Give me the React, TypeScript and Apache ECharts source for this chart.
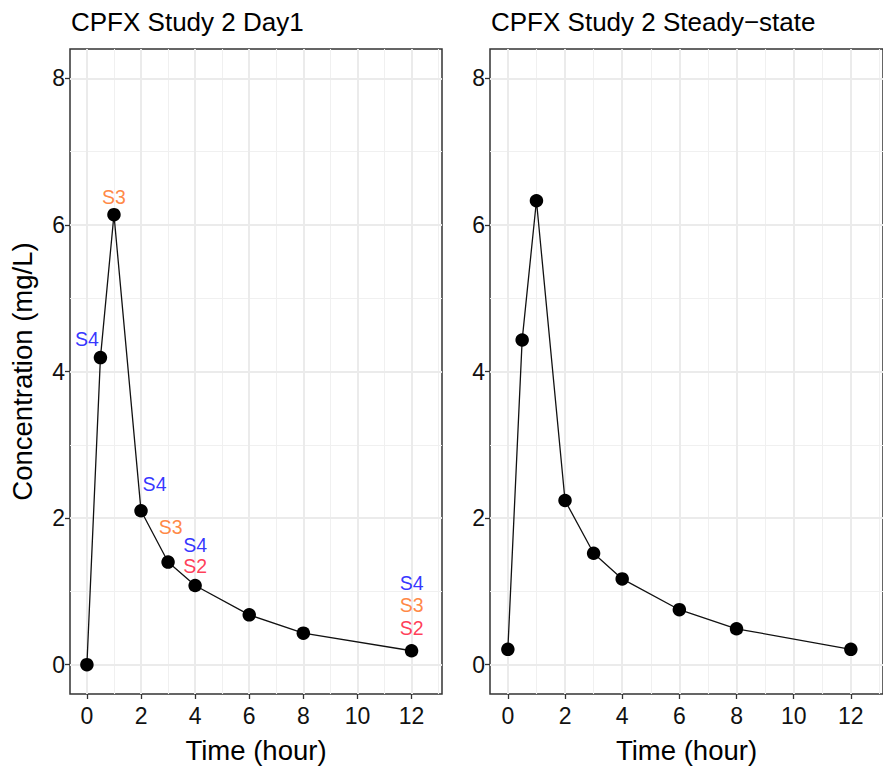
import React, { useEffect, useRef } from "react";
import * as echarts from "echarts";

const timeHours = [0, 0.5, 1, 2, 3, 4, 6, 8, 12];
const day1Conc = [0, 4.19, 6.14, 2.1, 1.4, 1.08, 0.68, 0.43, 0.19];
const steadyConc = [0.21, 4.43, 6.33, 2.24, 1.52, 1.17, 0.75, 0.49, 0.21];

const labelText = ["S4", "S3", "S4", "S3", "S4", "S2", "S4", "S3", "S2"];
const labelX = [0, 1, 2.5, 3.1, 4, 4, 12, 12, 12];
const labelY = [4.45, 6.38, 2.46, 1.88, 1.63, 1.35, 1.11, 0.82, 0.5];

const panelTitles = ["CPFX Study 2 Day1", "CPFX Study 2 Steady\u2212state"];
const xTicks = [0, 2, 4, 6, 8, 10, 12];
const xMinor = [1, 3, 5, 7, 9, 11, 13];
const yTicks = [0, 2, 4, 6, 8];
const yMinor = [1, 3, 5, 7];

const labelColors: Record<string, string> = {
  S4: "#0000ff",
  S3: "#ff6a13",
  S2: "#ff0a2e",
};

const FONT = "Liberation Sans, Arial, sans-serif";

export default function App() {
  const ref = useRef<HTMLDivElement>(null);

  useEffect(() => {
    if (!ref.current) return;
    const chart = echarts.init(ref.current, undefined, { renderer: "svg" });

    const grids = [
      { left: 70, top: 49, width: 372, height: 653 },
      { left: 490, top: 49, width: 404, height: 653 },
    ];

    const xAxes = grids.map((_, i) => ({
      type: "value",
      gridIndex: i,
      min: -0.625,
      max: 13.125,
      name: "Time (hour)",
      nameLocation: "middle",
      nameGap: 42,
      nameTextStyle: { fontFamily: FONT, fontSize: 27.5, color: "#000" },
      axisLine: { show: false, onZero: false },
      axisTick: {
        show: true,
        length: 5,
        customValues: xTicks,
        lineStyle: { color: "#333", width: 1.3 },
      },
      axisLabel: {
        customValues: xTicks,
        fontFamily: FONT,
        fontSize: 23,
        color: "#111",
        margin: 10,
      },
      splitLine: { show: false },
    }));

    const yAxes = grids.map((_, i) => ({
      type: "value",
      gridIndex: i,
      min: -0.4,
      max: 8.4,
      name: i === 0 ? "Concentration (mg/L)" : "",
      nameLocation: "middle",
      nameGap: 34,
      nameTextStyle: { fontFamily: FONT, fontSize: 27.5, color: "#000" },
      axisLine: { show: false, onZero: false },
      axisTick: {
        show: true,
        length: 5,
        customValues: yTicks,
        lineStyle: { color: "#333", width: 1.3 },
      },
      axisLabel: {
        customValues: yTicks,
        fontFamily: FONT,
        fontSize: 23,
        color: "#111",
        margin: 5,
      },
      splitLine: { show: false },
    }));

    const gridLineSeries = (i: number) => ({
      type: "line",
      xAxisIndex: i,
      yAxisIndex: i,
      data: [],
      silent: true,
      z: 1,
      markLine: {
        silent: true,
        symbol: "none",
        z: 1,
        label: { show: false },
        animation: false,
        data: [
          ...xMinor.map((v) => ({ xAxis: v, lineStyle: { color: "#f0f0f0", width: 1.1, type: "solid" } })),
          ...yMinor.map((v) => ({ yAxis: v, lineStyle: { color: "#f0f0f0", width: 1.1, type: "solid" } })),
          ...xTicks.map((v) => ({ xAxis: v, lineStyle: { color: "#ebebeb", width: 2, type: "solid" } })),
          ...yTicks.map((v) => ({ yAxis: v, lineStyle: { color: "#ebebeb", width: 2, type: "solid" } })),
        ],
      },
    });

    const concSeries = [day1Conc, steadyConc].map((vals, i) => ({
      type: "line",
      xAxisIndex: i,
      yAxisIndex: i,
      data: timeHours.map((t, k) => [t, vals[k]]),
      symbol: "circle",
      symbolSize: 13.5,
      showAllSymbol: true,
      itemStyle: { color: "#000" },
      lineStyle: { color: "#111", width: 1.3 },
      z: 3,
    }));

    const labelSeries = {
      type: "scatter",
      xAxisIndex: 0,
      yAxisIndex: 0,
      symbolSize: 0,
      silent: true,
      z: 4,
      data: labelText.map((t, k) => ({
        value: [labelX[k], labelY[k]],
        label: {
          show: true,
          position: "inside",
          formatter: t,
          color: labelColors[t],
          fontFamily: FONT,
          fontSize: 19.5,
        },
      })),
    };

    chart.setOption({
      animation: false,
      backgroundColor: "#fff",
      grid: grids.map((g) => ({
        ...g,
        show: true,
        backgroundColor: "#fff",
        borderColor: "#333",
        borderWidth: 1.5,
        containLabel: false,
      })),
      title: panelTitles.map((t, i) => ({
        text: t,
        left: grids[i].left + 1,
        top: 9,
        padding: 0,
        textStyle: { fontFamily: FONT, fontSize: 26, fontWeight: "normal", color: "#000" },
      })),
      xAxis: xAxes,
      yAxis: yAxes,
      series: [gridLineSeries(0), gridLineSeries(1), ...concSeries, labelSeries],
    });

    return () => chart.dispose();
  }, []);

  return (
    <div
      ref={ref}
      style={{ position: "fixed", left: 0, top: 0, width: 883, height: 769 }}
    />
  );
}
